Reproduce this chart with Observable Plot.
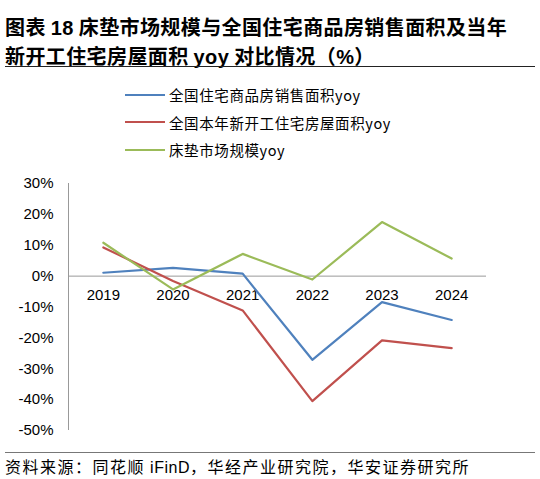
<!DOCTYPE html>
<html>
<head>
<meta charset="utf-8">
<script src="https://cdn.jsdelivr.net/npm/d3@7"></script>
<script src="https://cdn.jsdelivr.net/npm/@observablehq/plot@0.6"></script>
<style>
  body { margin: 0; background: #fff; width: 540px; height: 479px; position: relative; overflow: hidden; font-family: "Noto Sans CJK SC", sans-serif; }
  #title { position: absolute; left: 5px; top: 13px; font-size: 20px; font-weight: bold; line-height: 27px; letter-spacing: 0.4px; color: #000; }
  #title .lat { font-family: "Liberation Sans", Arial, sans-serif; font-weight: bold; }
  #rule1 { position: absolute; left: 5px; top: 66px; width: 530px; height: 0; border-top: 1.5px solid #222; }
  #legend { position: absolute; left: 125px; top: 81px; font-size: 14.5px; letter-spacing: 0.6px; color: #000; }
  #legend .row { height: 27.5px; display: flex; align-items: center; }
  #legend .sw { width: 40px; height: 0; border-top: 2.5px solid; margin-right: 4px; }
  #chart { position: absolute; left: 0; top: 170px; }
  #rule2 { position: absolute; left: 5px; top: 452px; width: 530px; height: 0; border-top: 1px solid #777; }
  #source { position: absolute; left: 5px; top: 454px; font-size: 16px; letter-spacing: 1.5px; color: #000; white-space: nowrap; }
  #source .lat { font-family: "Liberation Sans", Arial, sans-serif; letter-spacing: 0.5px; }
</style>
</head>
<body>
<div id="title">图表 <span class="lat">18</span> 床垫市场规模与全国住宅商品房销售面积及当年<br>新开工住宅房屋面积 <span class="lat">yoy</span> 对比情况（<span class="lat">%</span>）</div>
<div id="rule1"></div>
<div id="legend"></div>
<div id="chart"></div>
<div id="rule2"></div>
<div id="source">资料来源：同花顺 <span class="lat">iFinD</span>，华经产业研究院，华安证券研究所</div>
<script>
const years = [2019, 2020, 2021, 2022, 2023, 2024]
const salesArea = [1.1, 2.7, 0.8, -27.1, -8.4, -14.2]
const newStarts = [9.3, -1.6, -11.1, -40.5, -20.8, -23.3]
const mattress = [10.8, -4.3, 7.2, -1.1, 17.5, 5.7]
const seriesNames = ["全国住宅商品房销售面积yoy", "全国本年新开工住宅房屋面积yoy", "床垫市场规模yoy"]
const seriesColors = ["#4F81BD", "#C0504D", "#9BBB59"]
const yTicks = [30, 20, 10, 0, -10, -20, -30, -40, -50]

const allSeries = [salesArea, newStarts, mattress]
const rows = allSeries.flatMap((vals, k) => vals.map((v, i) => ({year: years[i], value: v, series: seriesNames[k]})))

// legend
const legend = d3.select("#legend")
seriesNames.forEach((name, k) => {
  const row = legend.append("div").attr("class", "row")
  row.append("div").attr("class", "sw").style("border-color", seriesColors[k])
  row.append("span").text(name)
})

const chart = Plot.plot({
  width: 540,
  height: 275,
  marginLeft: 68,
  marginRight: 54,
  marginTop: 13,
  marginBottom: 15,
  style: {fontFamily: "'Liberation Sans', Arial, sans-serif", fontSize: "15px", color: "#000", background: "transparent"},
  x: {domain: [2018.5, 2024.5], axis: null},
  y: {domain: [-50, 30], ticks: yTicks, tickFormat: d => d + "%"},
  color: {domain: seriesNames, range: seriesColors},
  marks: [
    Plot.axisY({ticks: yTicks, tickFormat: d => d + "%", tickSize: 0, tickPadding: 15, label: null, fontSize: 15}),
    Plot.ruleX([2018.5], {y1: -50, y2: 30, stroke: "#999", strokeWidth: 1}),
    Plot.ruleY([0], {x1: 2018.5, x2: 2024.5, stroke: "#999", strokeWidth: 1}),
    Plot.text(years, {x: d => d, y: 0, text: d => String(d), dy: 19, fontSize: 15, fill: "#000"}),
    Plot.line(rows, {x: "year", y: "value", z: "series", stroke: "series", strokeWidth: 2.2})
  ]
})
document.getElementById("chart").append(chart)
</script>
</body>
</html>
